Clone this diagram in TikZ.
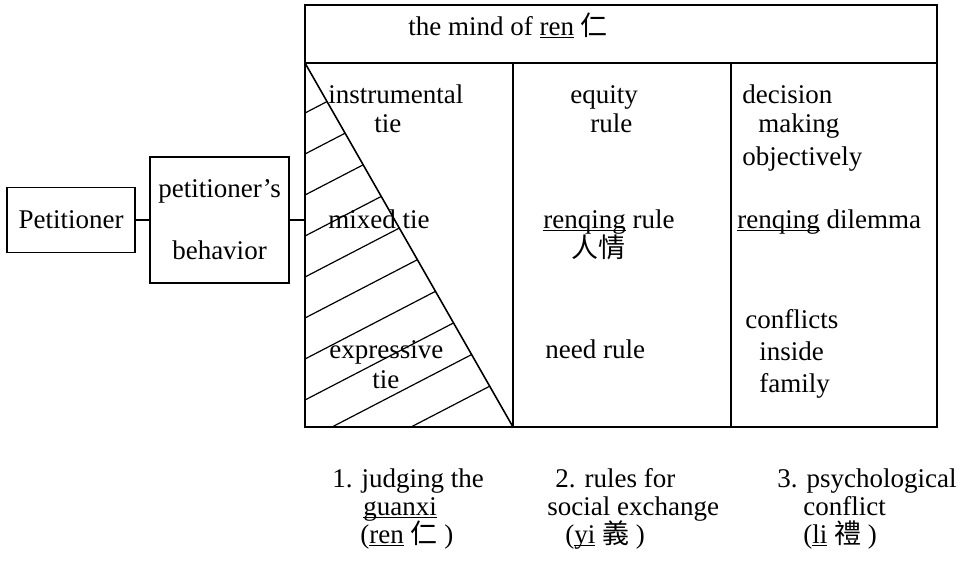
\documentclass[tikz,border=0pt]{standalone}
\usepackage{fontspec}
\setmainfont{Liberation Serif}
\newfontfamily\cjk{Noto Sans CJK TC}
\usetikzlibrary{positioning}
\newcommand{\ulword}[1]{\underline{\smash{#1}}}

\begin{document}
\begin{tikzpicture}[
  x=0.5pt, y=-0.5pt,
  font=\fontsize{13.5}{16}\selectfont,
  box/.style={rectangle, draw=black, thick, inner sep=0pt, outer sep=0pt},
  txt/.style={anchor=base west, inner sep=0pt},
  link/.style={thick},
  hatch/.style={semithick}
]
\useasboundingbox (0,0) rectangle (965,562);

% the table
\node (hdr) [box, minimum width=316pt, minimum height=29pt, anchor=north west] at (305,5) {};
\node (body) [box, minimum width=316pt, minimum height=182pt, below=0pt of hdr] {};
\coordinate (d1) at (513,427);
\coordinate (d2) at (731,427);
\draw [link] (d1) -- (d1 |- body.north);
\draw [link] (d2) -- (d2 |- body.north);
\draw [link] (body.north west) -- (d1);
\begin{scope}
  \clip (body.north west) -- (body.south west) -- (d1) -- cycle;
  \foreach \y in {113,154,...,482}
    \draw [hatch] (305,\y) -- ++(320,-166);
\end{scope}

% petitioner side
\node (pet) [box, minimum width=64pt, minimum height=32.5pt] at (71,220) {Petitioner};
\node (beh) [box, minimum width=69.5pt, minimum height=63pt, align=center, right=7.5pt of pet] {petitioner's\\[15pt]behavior};
\draw [link] (pet) -- (beh);
\draw [link] (beh) -- (beh -| body.west);

% header
\node (mind) [txt] at (408,35) {the mind of \ulword{ren} {\cjk 仁}};

% column 1
\node (instr) [txt] at (328,104) {instrumental};
\node (tie1) [txt] at (374,132) {tie};
\node (mixed) [txt] at (328,228) {mixed tie};
\node (expr) [txt] at (329,358) {expressive};
\node (tie2) [txt] at (372,388) {tie};

% column 2
\node (equity) [txt] at (570,104) {equity};
\node (rule) [txt] at (590,132) {rule};
\node (renq) [txt] at (543,228) {\ulword{renqing} rule};
\node (renqcjk) [txt] at (571,257) {\cjk 人情};
\node (need) [txt] at (545,358) {need rule};

% column 3
\node (dec) [txt] at (742,104) {decision};
\node (mak) [txt] at (758,132) {making};
\node (obj) [txt] at (742,165) {objectively};
\node (dil) [txt] at (737,228) {\ulword{renqing} dilemma};
\node (conf) [txt] at (745,328) {conflicts};
\node (ins) [txt] at (759,360) {inside};
\node (fam) [txt] at (759,392) {family};

% captions
\node (cap1a) [txt] at (332,487) {1. judging the};
\node (cap1b) [txt] at (363,515) {\ulword{guanxi}};
\node (cap1c) [txt] at (360,543) {(\ulword{ren} {\cjk 仁} )};
\node (cap2a) [txt] at (555,487) {2. rules for};
\node (cap2b) [txt] at (547,515) {social exchange};
\node (cap2c) [txt] at (565,543) {(\ulword{yi} {\cjk 義} )};
\node (cap3a) [txt] at (777,487) {3. psychological};
\node (cap3b) [txt] at (803,515) {conflict};
\node (cap3c) [txt] at (803,543) {(\ulword{li} {\cjk 禮} )};
\end{tikzpicture}
\end{document}
